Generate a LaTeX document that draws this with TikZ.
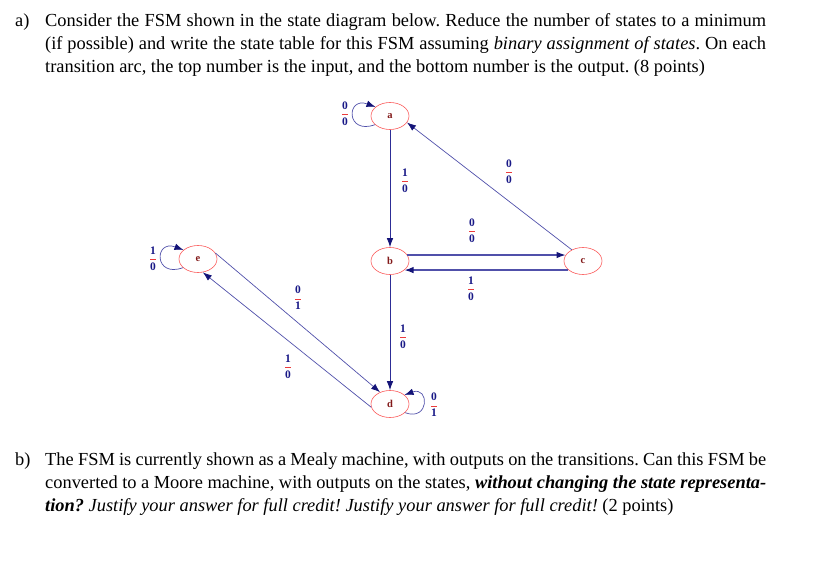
\documentclass[tikz,border=0pt]{standalone}
\usepackage{amsmath}
\usepackage{fontspec}
\setmainfont{Liberation Serif}
\usetikzlibrary{arrows.meta,shapes.geometric}
\definecolor{edgeblue}{RGB}{80,80,170}
\definecolor{darkedge}{RGB}{45,45,150}
\definecolor{tipblue}{RGB}{20,20,120}
\definecolor{numblue}{RGB}{25,25,135}
\definecolor{statered}{RGB}{250,90,90}
\definecolor{letterred}{RGB}{130,25,25}
\definecolor{barred}{RGB}{235,60,60}
% input over output
\newcommand{\io}[2]{$\color{barred}\dfrac{\textcolor{numblue}{\textbf{#1}}}{\textcolor{numblue}{\textbf{#2}}}$}

\begin{document}
\frenchspacing
\begin{tikzpicture}[x=1pt, y=-1pt,
  state/.style={draw=statered, line width=0.6pt, ellipse, minimum width=38pt, minimum height=27pt,
    inner sep=0pt, text=letterred, font=\fontsize{10.5}{12}\selectfont\bfseries},
  edge/.style={draw=edgeblue, line width=0.7pt, -{Latex[length=9pt,width=6.5pt,color=tipblue]}},
  io/.style={inner sep=0pt, font=\fontsize{11.5}{13}\selectfont},
  para/.style={inner sep=0pt, anchor=base west, font=\fontsize{18.4}{23}\selectfont}]
  \useasboundingbox (0,0) rectangle (833,588);
  % Teil a
  \node[para] (la) at (15,27) {a)};
  \node[para] (ta) at (45,27) {\parbox[t]{721pt}{\emergencystretch=2em Consider the FSM shown in the state diagram below. Reduce the number of states to a minimum\linebreak
    (if possible) and write the state table for this FSM assuming \textit{binary assignment of states}. On each\linebreak
    transition arc, the top number is the input, and the bottom number is the output. (8 points)}};
  % Zustaende
  \node[state] (a) at (390,116) {a};
  \node[state] (b) at (390,261) {b};
  \node[state] (c) at (583,261) {c};
  \node[state] (d) at (390,404) {d};
  \node[state] (e) at (198,259) {e};
  % Uebergaenge
  \draw[edge] (a.210) to[out=200, in=160, looseness=4.5] (a.148);
  \draw[edge] (e.210) to[out=200, in=160, looseness=4.5] (e.148);
  \draw[edge] (d.-30) to[out=-20, in=20, looseness=3.8] (d.32);
  \draw[edge, draw=darkedge, line width=0.9pt] (a.south) -- (b.north);
  \draw[edge] (c.135) -- (a.-21);
  \draw[edge, line width=1.2pt] (b.19) -- (c.161);
  \draw[edge, line width=1.2pt] (c.212) -- (b.-32);
  \draw[edge, draw=darkedge, line width=0.9pt] (b.south) -- (d.north);
  \draw[edge] (e.19) -- (d.130);
  \draw[edge] (d.190) -- (e.-70);
  % Beschriftungen
  \node[io] (la0) at (345,114) {\io{0}{0}};
  \node[io] (lab) at (405,181) {\io{1}{0}};
  \node[io] (lca) at (509,172) {\io{0}{0}};
  \node[io] (lbc) at (472,231) {\io{0}{0}};
  \node[io] (lcb) at (471,289) {\io{1}{0}};
  \node[io] (le0) at (153,259) {\io{1}{0}};
  \node[io] (led) at (298,298) {\io{0}{1}};
  \node[io] (lde) at (288,367) {\io{1}{0}};
  \node[io] (lbd) at (403,337) {\io{1}{0}};
  \node[io] (ld0) at (434,405) {\io{0}{1}};
  % Teil b
  \node[para] (lb) at (15,465) {b)};
  \node[para] (tb) at (45,465) {\parbox[t]{721pt}{\emergencystretch=2em The FSM is currently shown as a Mealy machine, with outputs on the transitions. Can this FSM be\linebreak
    converted to a Moore machine, with outputs on the states, \textbf{\textit{without changing the state representa-\linebreak
    tion?}} \textit{Justify your answer for full credit! Justify your answer for full credit!} (2 points)}};
\end{tikzpicture}
\end{document}
